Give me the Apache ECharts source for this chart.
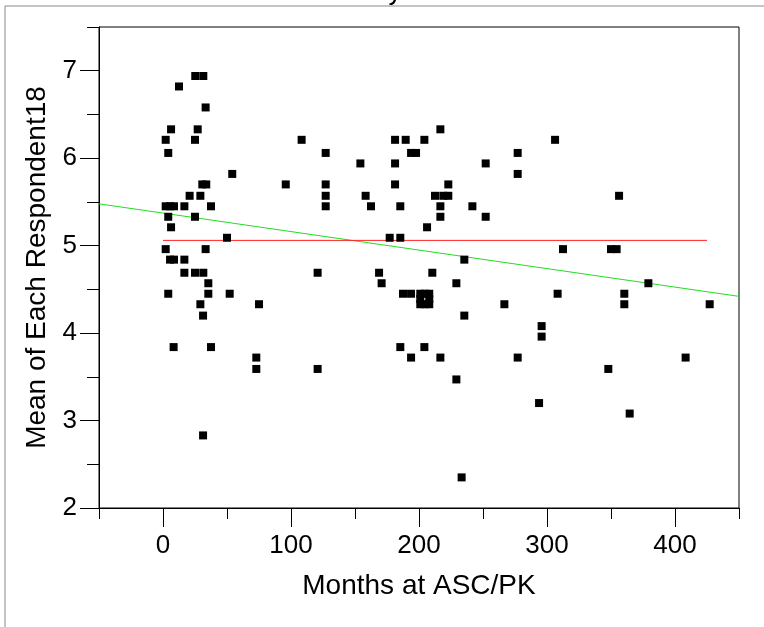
<!DOCTYPE html>
<html>
<head>
<meta charset="utf-8">
<script src="https://cdn.jsdelivr.net/npm/echarts@6/dist/echarts.min.js"></script>
<style>html,body{margin:0;padding:0;background:#fff;}#c{width:764px;height:627px;}</style>
</head>
<body>
<div id="c"></div>
<script>
// ---- data ----
const monthsAtASC = [
  25.2, 31.5, 12.5, 33.3,
  6.3, 27.1, 216.7,
  2.1, 25, 108.3, 181.3, 189.6, 204.2, 306.3,
  4.1, 127.1, 193.8, 197.7, 277.1,
  154.2, 181.3, 252.1,
  54.1, 277.1,
  95.9, 30.7, 33.8, 127.1, 181.3, 222.9,
  20.8, 29.2, 127.1, 158.3, 212.5, 219, 222.9, 356.3,
  2.1, 5.5, 8.6, 16.7, 37.5, 127.1, 162.5, 185.4, 216.7, 241.7,
  4.1, 25, 216.7, 252.1,
  6.3, 206.3,
  50, 177.1, 185.4,
  2.1, 33.3, 312.5, 350, 354.4,
  5.5, 8.6, 16.7, 235.4,
  16.7, 25, 31.5, 120.8, 168.8, 210.4,
  35.4, 170.8, 229.2, 379.2,
  4.1, 35.4, 52.1, 187.5, 193.8, 308.3, 360.4,
  201, 204.5, 208, 201, 208, 201, 204.5, 208,
  29.2, 75, 266.7, 360.4, 427.1,
  31.3, 235.4,
  295.8, 295.8,
  8.3, 37.5, 185.4, 204.2,
  72.9, 193.8, 216.7, 277.1, 408.3,
  72.9, 120.8, 347.9,
  229.2, 293.8, 364.6, 31.3, 233.3
];
const respondentMean = [
  6.94, 6.94, 6.82, 6.58,
  6.33, 6.33, 6.33,
  6.21, 6.21, 6.21, 6.21, 6.21, 6.21, 6.21,
  6.06, 6.06, 6.06, 6.06, 6.06,
  5.94, 5.94, 5.94,
  5.82, 5.82,
  5.70, 5.70, 5.70, 5.70, 5.70, 5.70,
  5.57, 5.57, 5.57, 5.57, 5.57, 5.57, 5.57, 5.57,
  5.45, 5.45, 5.45, 5.45, 5.45, 5.45, 5.45, 5.45, 5.45, 5.45,
  5.33, 5.33, 5.33, 5.33,
  5.21, 5.21,
  5.09, 5.09, 5.09,
  4.96, 4.96, 4.96, 4.96, 4.96,
  4.84, 4.84, 4.84, 4.84,
  4.69, 4.69, 4.69, 4.69, 4.69, 4.69,
  4.57, 4.57, 4.57, 4.57,
  4.45, 4.45, 4.45, 4.45, 4.45, 4.45, 4.45,
  4.45, 4.45, 4.45, 4.39, 4.39, 4.33, 4.33, 4.33,
  4.33, 4.33, 4.33, 4.33, 4.33,
  4.20, 4.20,
  4.08, 3.96,
  3.84, 3.84, 3.84, 3.84,
  3.72, 3.72, 3.72, 3.72, 3.72,
  3.59, 3.59, 3.59,
  3.47, 3.20, 3.08, 2.83, 2.35
];
const fitLineX = [-50, 450];
const fitLineY = [5.478, 4.42];
const meanLineX = [0, 425];
const meanLineY = [5.06, 5.06];

const xTickLabels = [0, 100, 200, 300, 400];
const xMinorTicks = [-50, 50, 150, 250, 350, 450];
const yTickLabels = [2, 3, 4, 5, 6, 7];
const yMinorTicks = [2.5, 3.5, 4.5, 5.5, 6.5, 7.5];

const xTitle = 'Months at ASC/PK';
const yTitle = 'Mean of Each Respondent18';

// ---- chart ----
const FONT = '"Liberation Sans", Arial, sans-serif';
const chart = echarts.init(document.getElementById('c'), null, {renderer: 'canvas'});
const pts = monthsAtASC.map((x, i) => [x, respondentMean[i]]);

const option = {
  animation: false,
  backgroundColor: '#fff',
  textStyle: {fontFamily: FONT},
  graphic: [
    {type: 'rect', z: 0, silent: true,
     shape: {x: 5, y: 6, width: 800, height: 700},
     style: {fill: 'none', stroke: '#8a8a8a', lineWidth: 1}},
    {type: 'text', silent: true, x: 395, y: 6,
     style: {text: 'y', fontSize: 26, fontFamily: FONT, fill: '#000',
             textAlign: 'center', textVerticalAlign: 'bottom'}}
  ],
  grid: {left: 99, top: 27, width: 640, height: 481, show: true,
         borderColor: '#000', borderWidth: 1, backgroundColor: 'transparent'},
  xAxis: [
    {type: 'value', min: -50, max: 450, position: 'bottom',
     name: xTitle, nameLocation: 'middle', nameGap: 64,
     nameTextStyle: {fontSize: 28, color: '#000', fontFamily: FONT},
     axisLine: {show: true, onZero: false, lineStyle: {color: '#000', width: 1}},
     axisTick: {show: true, length: 19, customValues: xTickLabels, lineStyle: {color: '#000'}},
     axisLabel: {show: true, customValues: xTickLabels, margin: 25, fontSize: 26, color: '#000', fontFamily: FONT},
     splitLine: {show: false}},
    {type: 'value', min: -50, max: 450, position: 'bottom',
     axisLine: {show: false, onZero: false},
     axisTick: {show: true, length: 11, customValues: xMinorTicks, lineStyle: {color: '#000'}},
     axisLabel: {show: false},
     splitLine: {show: false}}
  ],
  yAxis: [
    {type: 'value', min: 2, max: 7.5, position: 'left',
     name: yTitle, nameLocation: 'middle', nameGap: 44,
     nameTextStyle: {fontSize: 28, color: '#000', fontFamily: FONT},
     axisLine: {show: true, onZero: false, lineStyle: {color: '#000', width: 1}},
     axisTick: {show: true, length: 19, customValues: yTickLabels, lineStyle: {color: '#000'}},
     axisLabel: {show: true, customValues: yTickLabels, margin: 22, fontSize: 26, color: '#000', fontFamily: FONT},
     splitLine: {show: false}},
    {type: 'value', min: 2, max: 7.5, position: 'left',
     axisLine: {show: false, onZero: false},
     axisTick: {show: true, length: 12, customValues: yMinorTicks, lineStyle: {color: '#000'}},
     axisLabel: {show: false},
     splitLine: {show: false}}
  ],
  series: [
    {type: 'line', xAxisIndex: 0, yAxisIndex: 0, symbol: 'none', z: 3,
     data: fitLineX.map((x, i) => [x, fitLineY[i]]),
     lineStyle: {color: '#22dd22', width: 1}},
    {type: 'line', xAxisIndex: 0, yAxisIndex: 0, symbol: 'none', z: 3,
     data: meanLineX.map((x, i) => [x, meanLineY[i]]),
     lineStyle: {color: '#ff2020', width: 1}},
    {type: 'scatter', xAxisIndex: 0, yAxisIndex: 0, symbol: 'rect', symbolSize: 8, z: 4,
     data: pts, itemStyle: {color: '#000', opacity: 1}}
  ]
};
chart.setOption(option);
</script>
</body>
</html>
